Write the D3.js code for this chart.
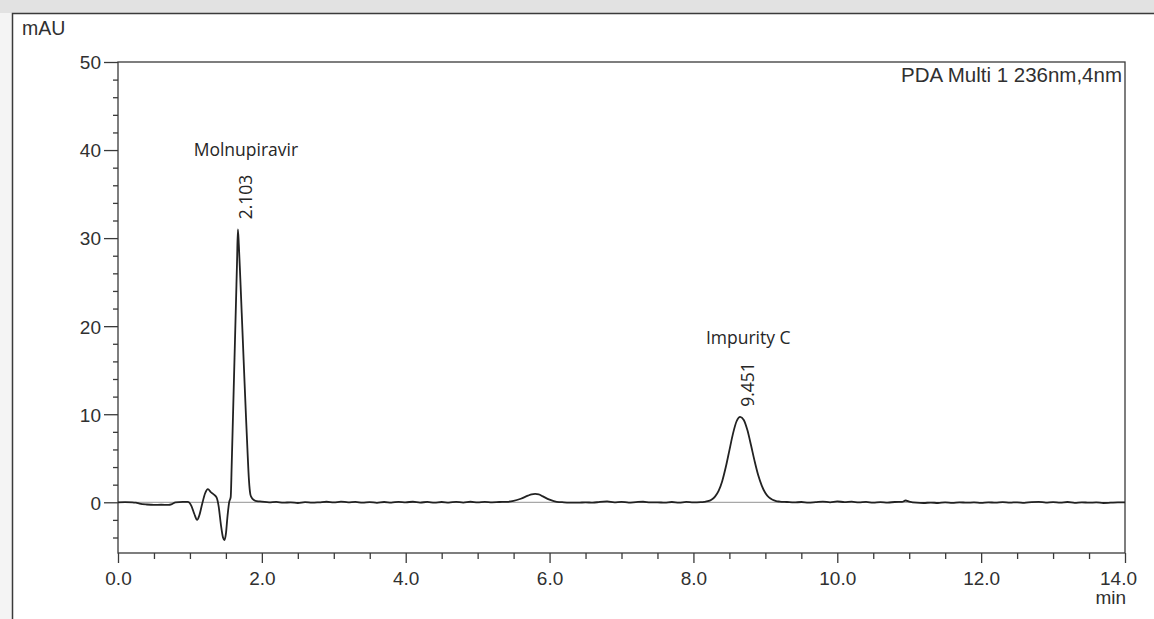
<!DOCTYPE html>
<html>
<head>
<meta charset="utf-8">
<script src="https://cdn.jsdelivr.net/npm/d3@7"></script>
<style>
  html, body { margin: 0; padding: 0; background: #ffffff; }
  svg { display: block; }
  .tick-label { font-family: "Liberation Sans", Arial, sans-serif; font-size: 19px; fill: #303030; }
  .peak-label { font-family: "Open Sans", Lato, sans-serif; font-size: 17.5px; fill: #262626; }
</style>
</head>
<body>
<svg id="canvas"></svg>
<script>
// chromatogram trace, [minutes, mAU]
const trace = [
  [0.00, 0.00], [0.10, 0.02], [0.20, 0.00], [0.25, -0.05], [0.30, -0.15], [0.40, -0.25],
  [0.50, -0.30], [0.60, -0.28], [0.70, -0.30], [0.75, -0.20], [0.80, 0.00], [0.90, 0.05],
  [0.97, 0.05], [1.02, -0.40], [1.06, -1.30], [1.10, -2.00], [1.13, -1.50], [1.17, -0.20],
  [1.21, 1.00], [1.25, 1.50], [1.29, 1.15], [1.33, 0.90], [1.37, 0.55], [1.40, -0.50],
  [1.43, -2.50], [1.46, -4.00], [1.48, -4.30], [1.50, -3.60], [1.52, -1.80], [1.545, 0.00],
  [1.567, 0.60], [1.58, 4.00], [1.60, 10.2], [1.62, 16.4], [1.64, 22.6], [1.655, 27.3],
  [1.667, 31.0], [1.68, 29.2], [1.70, 25.5], [1.72, 21.5], [1.74, 17.5], [1.76, 13.5],
  [1.78, 9.60], [1.80, 5.90], [1.82, 2.60], [1.84, 0.90], [1.86, 0.50], [1.89, 0.25],
  [1.93, 0.12], [2.00, 0.08], [2.10, 0.00], [2.20, 0.05], [2.30, -0.05], [2.40, 0.00],
  [2.50, -0.08], [2.60, 0.02], [2.70, -0.05], [2.80, 0.00], [2.90, 0.06], [3.00, -0.02],
  [3.10, 0.08], [3.20, 0.00], [3.30, 0.05], [3.40, -0.05], [3.50, 0.02], [3.60, -0.06],
  [3.70, 0.03], [3.80, -0.04], [3.90, 0.05], [4.00, 0.00], [4.10, 0.06], [4.20, -0.03],
  [4.30, 0.04], [4.40, -0.05], [4.50, 0.03], [4.60, -0.04], [4.70, 0.05], [4.80, -0.03],
  [4.90, 0.06], [5.00, -0.02], [5.10, 0.04], [5.20, 0.00], [5.30, 0.03], [5.40, 0.05],
  [5.50, 0.15], [5.60, 0.40], [5.70, 0.75], [5.75, 0.90], [5.80, 0.95], [5.85, 0.90],
  [5.90, 0.70], [6.00, 0.30], [6.10, 0.05], [6.20, 0.00], [6.30, -0.03], [6.40, -0.05],
  [6.50, 0.00], [6.60, -0.05], [6.70, 0.05], [6.80, 0.10], [6.90, 0.00], [7.00, 0.05],
  [7.10, -0.03], [7.20, 0.02], [7.30, 0.06], [7.40, -0.02], [7.50, 0.00], [7.60, -0.05],
  [7.70, 0.03], [7.80, -0.04], [7.90, 0.04], [8.00, 0.00], [8.10, 0.02], [8.15, 0.05],
  [8.20, 0.12], [8.25, 0.30], [8.30, 0.65], [8.35, 1.30], [8.40, 2.40], [8.45, 4.00],
  [8.50, 5.90], [8.55, 7.80], [8.60, 9.20], [8.65, 9.70], [8.70, 9.35], [8.75, 8.20],
  [8.80, 6.50], [8.85, 4.70], [8.90, 3.10], [8.95, 1.90], [9.00, 1.05], [9.05, 0.55],
  [9.10, 0.28], [9.15, 0.14], [9.20, 0.08], [9.30, 0.03], [9.40, -0.02], [9.50, 0.03],
  [9.60, -0.04], [9.70, 0.02], [9.80, 0.08], [9.90, 0.00], [10.0, 0.10], [10.1, 0.02],
  [10.2, 0.08], [10.3, -0.02], [10.4, 0.04], [10.5, -0.05], [10.6, 0.02], [10.7, -0.03],
  [10.8, 0.03], [10.9, 0.05], [10.95, 0.20], [11.0, 0.08], [11.1, -0.05], [11.2, -0.08],
  [11.3, -0.03], [11.4, -0.08], [11.5, -0.02], [11.6, -0.06], [11.7, 0.00], [11.8, -0.05],
  [11.9, -0.02], [12.0, -0.06], [12.1, 0.00], [12.2, -0.05], [12.3, 0.02], [12.4, -0.04],
  [12.5, 0.00], [12.6, -0.06], [12.7, 0.02], [12.8, 0.05], [12.9, -0.03], [13.0, 0.02],
  [13.1, -0.05], [13.2, 0.03], [13.3, -0.06], [13.4, 0.00], [13.5, -0.05], [13.6, -0.02],
  [13.7, -0.08], [13.8, -0.05], [13.9, -0.02], [14.0, -0.02]
]

const peakNames = ['Molnupiravir', 'Impurity C']
const peakTimeLabels = ['2.103', '9.451']
const peakApexTime = [1.667, 8.651]
const peakApexMAU = [31.0, 9.7]

const xMajorTicks = [0, 2, 4, 6, 8, 10, 12, 14]
const xTickLabels = ['0.0', '2.0', '4.0', '6.0', '8.0', '10.0', '12.0', '14.0']
const yMajorTicks = [0, 10, 20, 30, 40, 50]
const yTickLabels = ['0', '10', '20', '30', '40', '50']

const yUnit = 'mAU'
const xUnit = 'min'
const detectorLabel = 'PDA Multi 1 236nm,4nm'

const width = 1154
const height = 619
const canvas = d3.select('#canvas').attr('width', width).attr('height', height)

const x = d3.scaleLinear().domain([0, 14]).range([118, 1125])
const y = d3.scaleLinear().domain([-5.76, 50]).range([553, 62])

const drawFrame = ()=>{
    canvas.append('rect').attr('x', 0).attr('y', 0).attr('width', width).attr('height', height).attr('fill', '#f4f4f4')
    canvas.append('rect').attr('x', 0).attr('y', 0).attr('width', width).attr('height', 13).attr('fill', '#e2e2e2')
    canvas.append('rect').attr('x', 12.5).attr('y', 13.5).attr('width', width).attr('height', height)
        .attr('fill', '#ffffff').attr('stroke', '#3a3a3a').attr('stroke-width', 1.5)
}

const drawAxes = ()=>{
    const [x0, x1] = x.range()
    const [y0, y1] = y.range()

    // zero line
    canvas.append('line')
        .attr('x1', x0).attr('x2', x1)
        .attr('y1', y(0)).attr('y2', y(0))
        .attr('stroke', '#a8a8a8').attr('stroke-width', 1.2)

    // y axis with minor ticks
    const yMinor = canvas.append('g').attr('transform', `translate(${x0},0)`)
        .call(d3.axisLeft(y).tickValues(d3.range(-4, 51, 2).filter(v => v % 10 !== 0)).tickSize(5).tickFormat(''))
    const yMajor = canvas.append('g').attr('transform', `translate(${x0},0)`)
        .call(d3.axisLeft(y).tickValues(yMajorTicks).tickSize(14).tickPadding(3)
            .tickFormat((d, i)=>yTickLabels[i]))

    // x axis with minor ticks
    const xMinor = canvas.append('g').attr('transform', `translate(0,${y0})`)
        .call(d3.axisBottom(x).tickValues(d3.range(0.5, 14, 0.5).filter(v => v % 2 !== 0)).tickSize(6).tickFormat(''))
    const xMajor = canvas.append('g').attr('transform', `translate(0,${y0})`)
        .call(d3.axisBottom(x).tickValues(xMajorTicks).tickSize(10).tickPadding(6)
            .tickFormat((d, i)=>xTickLabels[i]))

    ;[yMinor, yMajor, xMinor, xMajor].forEach(g=>{
        g.select('.domain').remove()
        g.selectAll('line').attr('stroke', '#3a3a3a').attr('stroke-width', 1.3)
        g.selectAll('text').attr('class', 'tick-label').attr('fill', null)
            .attr('font-size', null).attr('font-family', null)
    })
    yMajor.selectAll('text').attr('dy', '0.36em')
    xMajor.selectAll('text').attr('dy', '0.85em')
    // last label pulled inside like the original
    xMajor.selectAll('text').filter(d => d === 14).attr('dx', -7)

    // plot box
    canvas.append('rect')
        .attr('x', x0).attr('y', y1)
        .attr('width', x1 - x0).attr('height', y0 - y1)
        .attr('fill', 'none').attr('stroke', '#3a3a3a').attr('stroke-width', 1.3)

    canvas.append('text').attr('class', 'tick-label')
        .style('font-size', '19.5px')
        .attr('x', 22).attr('y', 35).text(yUnit)
    canvas.append('text').attr('class', 'tick-label')
        .attr('x', 1126).attr('y', 604).attr('text-anchor', 'end').text(xUnit)
    canvas.append('text').attr('class', 'tick-label')
        .style('font-size', '20.5px')
        .attr('x', 1122).attr('y', 82).attr('text-anchor', 'end').text(detectorLabel)
}

const drawTrace = ()=>{
    const line = d3.line()
        .x(d => x(d[0]))
        .y(d => y(d[1]))
        .curve(d3.curveMonotoneX)
    canvas.append('path')
        .datum(trace)
        .attr('d', line)
        .attr('fill', 'none')
        .attr('stroke', '#222222')
        .attr('stroke-width', 1.8)
        .attr('stroke-linejoin', 'round')
}

const drawPeakLabels = ()=>{
    const labels = canvas.selectAll('.peak').data(peakNames).enter().append('g').attr('class', 'peak')
    labels.append('text').attr('class', 'peak-label')
        .attr('x', (d, i)=>x(peakApexTime[i]) + 8)
        .attr('y', (d, i)=>y(peakApexMAU[i]) - 73)
        .attr('text-anchor', 'middle')
        .text(d => d)
    labels.append('text').attr('class', 'peak-label')
        .attr('transform', (d, i)=>`translate(${x(peakApexTime[i]) + 14},${y(peakApexMAU[i]) - 10}) rotate(-90)`)
        .text((d, i)=>peakTimeLabels[i])
}

drawFrame()
drawAxes()
drawTrace()
drawPeakLabels()
</script>
</body>
</html>
